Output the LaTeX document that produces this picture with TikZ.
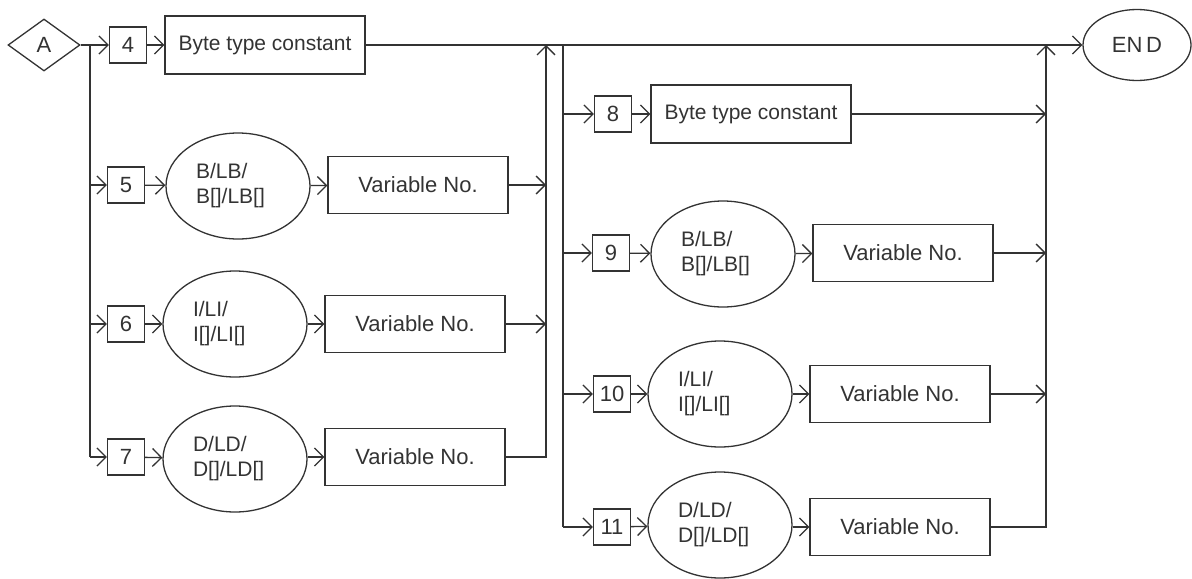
\documentclass[tikz,border=0pt]{standalone}
\usepackage{fontspec}
\setmainfont{Liberation Sans}
\usetikzlibrary{arrows.meta,positioning,shapes.geometric}

\begin{document}
\begin{tikzpicture}[
  x=0.5pt,y=-0.5pt,
  every node/.style={font=\fontsize{11}{12.5}\selectfont,text=black!80},
  wire/.style={draw=black!80,line width=0.65pt},
  entry/.style={wire,diamond,aspect=1.4,minimum width=36pt,minimum height=26pt,inner sep=0pt},
  num/.style={wire,minimum width=18.5pt,minimum height=18pt,inner sep=0pt},
  const/.style={wire,minimum width=100pt,minimum height=29pt,font=\fontsize{10.5}{12.5}\selectfont},
  kind/.style={wire,ellipse,minimum width=72pt,minimum height=53pt,inner sep=0pt,text width=42pt,align=left,font=\fontsize{10.5}{12.5}\selectfont},
  var/.style={wire,minimum width=90pt,minimum height=28.5pt},
  arrow/.style={wire,-{Straight Barb[length=4.5pt,width=9pt]}}
]
\useasboundingbox (0,0) rectangle (1192,578);

\node[entry] (A) at (44,45) {A};
\node[num] (n4) at (128,45) {4};
\node[const] (c4) at (265,45) {Byte type constant};
\node[wire,ellipse,minimum width=54pt,minimum height=35.5pt,inner sep=0pt] (end) at (1137,45) {EN\,D};

\node[num] (n5) at (126,185) {5};
\node[kind] (k5) at (238,186) {B/LB/\\B[]/LB[]};
\node[var] (v5) at (418,185) {Variable No.};
\node[num] (n6) at (126,324) {6};
\node[kind] (k6) at (235,324) {I/LI/\\I[]/LI[]};
\node[var] (v6) at (415,324) {Variable No.};
\node[num] (n7) at (126,457) {7};
\node[kind] (k7) at (235,459) {D/LD/\\D[]/LD[]};
\node[var] (v7) at (415,457) {Variable No.};

\node[num] (n8) at (613,114) {8};
\node[const] (c8) at (751,114) {Byte type constant};
\node[num] (n9) at (611,253) {9};
\node[kind] (k9) at (723,254) {B/LB/\\B[]/LB[]};
\node[var] (v9) at (903,253) {Variable No.};
\node[num] (n10) at (612,394) {10};
\node[kind] (k10) at (720,394) {I/LI/\\I[]/LI[]};
\node[var] (v10) at (900,394) {Variable No.};
\node[num] (n11) at (612,527) {11};
\node[kind] (k11) at (720,525) {D/LD/\\D[]/LD[]};
\node[var] (v11) at (900,527) {Variable No.};

\coordinate (jA) at (90,45);
\coordinate (mL) at (546,45);
\coordinate (jB) at (563,45);
\coordinate (mR) at (1046,45);

\draw[arrow] (A) -- (n4);
\draw[arrow] (n4) -- (c4);
\draw[arrow] (c4) -- (end);

\draw[wire] (jA) -- (jA |- n7);
\draw[arrow] (jA |- n5) -- (n5);
\draw[arrow] (jA |- n6) -- (n6);
\draw[arrow] (jA |- n7) -- (n7);
\draw[arrow] (n5) -- (k5);
\draw[arrow] (n6) -- (k6);
\draw[arrow] (n7) -- (k7);
\draw[arrow] (k5) -- (v5);
\draw[arrow] (k6) -- (v6);
\draw[arrow] (k7.east |- v7) -- (v7);
\draw[arrow] (v5) -- (v5 -| mL);
\draw[arrow] (v6) -- (v6 -| mL);
\draw[arrow] (v7) -| (mL);

\draw[wire] (jB) -- (jB |- n11);
\draw[arrow] (jB |- n8) -- (n8);
\draw[arrow] (jB |- n9) -- (n9);
\draw[arrow] (jB |- n10) -- (n10);
\draw[arrow] (jB |- n11) -- (n11);
\draw[arrow] (n8) -- (c8);
\draw[arrow] (n9) -- (k9);
\draw[arrow] (n10) -- (k10);
\draw[arrow] (n11) -- (k11);
\draw[arrow] (k9) -- (v9);
\draw[arrow] (k10) -- (v10);
\draw[arrow] (k11.east |- v11) -- (v11);
\draw[arrow] (c8) -- (c8 -| mR);
\draw[arrow] (v9) -- (v9 -| mR);
\draw[arrow] (v10) -- (v10 -| mR);
\draw[arrow] (v11) -| (mR);
\end{tikzpicture}
\end{document}
